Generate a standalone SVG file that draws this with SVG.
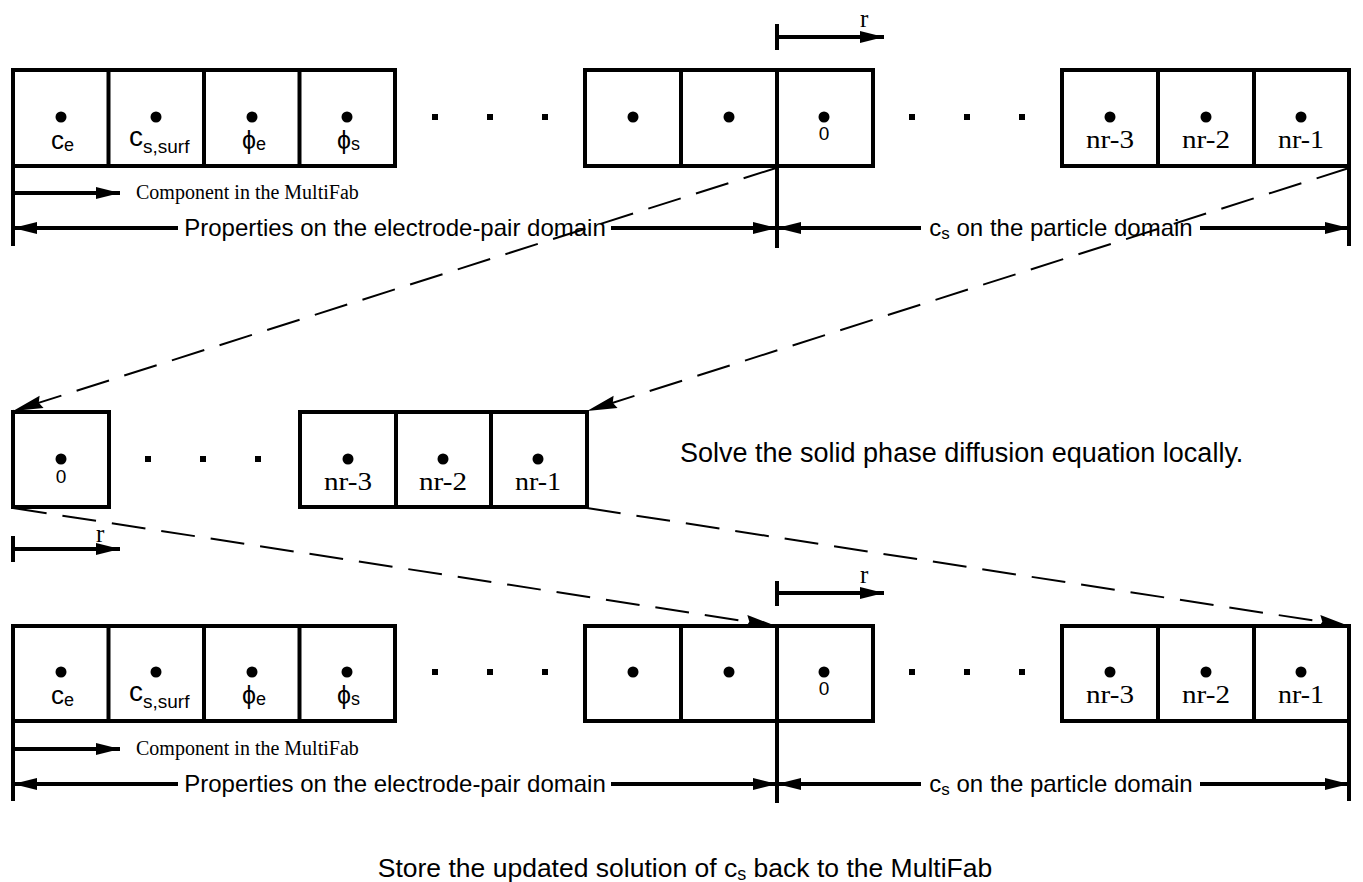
<svg xmlns="http://www.w3.org/2000/svg" width="1363" height="882" viewBox="0 0 1363 882">
<style>
.box{fill:none;stroke:#000;stroke-width:4;stroke-linejoin:miter}
.ln{stroke:#000;stroke-width:4;fill:none}
.sym{font-family:"Liberation Sans",Arial,sans-serif;fill:#000}
.ser{font-family:"Liberation Serif","Times New Roman",serif;fill:#000}
.nr{font-family:"Liberation Serif","Times New Roman",serif;fill:#000;font-size:25px;text-anchor:middle}
.dim{font-family:"Liberation Sans",Arial,sans-serif;fill:#000;font-size:24px;text-anchor:middle}
.comp{font-family:"Liberation Serif","Times New Roman",serif;fill:#000;font-size:20px}
.dash{stroke:#000;stroke-width:2;fill:none;stroke-dasharray:34 16}
.sq{fill:#000}
</style>
<defs>
<marker id="ah" markerUnits="userSpaceOnUse" markerWidth="26" markerHeight="14" refX="24" refY="6" orient="auto" overflow="visible">
<path d="M0,0 L24,6 L0,12 Z" fill="#000"/>
</marker>
<marker id="ahd" markerUnits="userSpaceOnUse" markerWidth="32" markerHeight="14" refX="30" refY="6.5" orient="auto" overflow="visible">
<path d="M0,0 L30,6.5 L0,13 L3,6.5 Z" fill="#000"/>
</marker>
<circle id="dot" r="5.5" fill="#000"/>
</defs>

<!-- TOP ROW -->
<g id="top-left-cells">
<rect class="box" x="13" y="70" width="382" height="96"/>
<line class="ln" x1="108.5" y1="70" x2="108.5" y2="166"/>
<line class="ln" x1="204" y1="70" x2="204" y2="166"/>
<line class="ln" x1="299.5" y1="70" x2="299.5" y2="166"/>
<use href="#dot" x="61" y="117"/><use href="#dot" x="156" y="117"/><use href="#dot" x="252" y="117"/><use href="#dot" x="347" y="117"/>
<text class="sym" x="51" y="149" font-size="26">c<tspan font-size="18" dy="2">e</tspan></text>
<text class="sym" x="129" y="146" font-size="28">c<tspan font-size="19" dy="7">s,surf</tspan></text>
<text class="sym" x="242" y="149" font-size="25">ϕ<tspan font-size="18" dy="1">e</tspan></text>
<text class="sym" x="337" y="149" font-size="25">ϕ<tspan font-size="18" dy="1">s</tspan></text>
</g>
<g id="top-dots1"><rect class="sq" x="432" y="114" width="6" height="6"/><rect class="sq" x="487" y="114" width="6" height="6"/><rect class="sq" x="542" y="114" width="6" height="6"/></g>
<g id="top-mid-cells">
<rect class="box" x="585" y="70" width="288" height="96"/>
<line class="ln" x1="681" y1="70" x2="681" y2="166"/>
<line class="ln" x1="777" y1="70" x2="777" y2="166"/>
<use href="#dot" x="633" y="117"/><use href="#dot" x="729" y="117"/><use href="#dot" x="824" y="117"/>
<text class="sym" x="824" y="140" font-size="19" text-anchor="middle">0</text>
</g>
<g id="top-dots2"><rect class="sq" x="909" y="114" width="6" height="6"/><rect class="sq" x="964" y="114" width="6" height="6"/><rect class="sq" x="1019" y="114" width="6" height="6"/></g>
<g id="top-right-cells">
<rect class="box" x="1062" y="70" width="287" height="96"/>
<line class="ln" x1="1158" y1="70" x2="1158" y2="166"/>
<line class="ln" x1="1254" y1="70" x2="1254" y2="166"/>
<use href="#dot" x="1110" y="117"/><use href="#dot" x="1206" y="117"/><use href="#dot" x="1301" y="117"/>
<text class="nr" x="1110" y="148" textLength="48" lengthAdjust="spacingAndGlyphs">nr-3</text>
<text class="nr" x="1206" y="148" textLength="48" lengthAdjust="spacingAndGlyphs">nr-2</text>
<text class="nr" x="1301" y="148" textLength="46" lengthAdjust="spacingAndGlyphs">nr-1</text>
</g>
<g id="top-r-arrow">
<line class="ln" x1="777" y1="24" x2="777" y2="50"/>
<line class="ln" x1="777" y1="37" x2="884" y2="37" marker-end="url(#ah)"/>
<text class="ser" x="860" y="27" font-size="25">r</text>
</g>
<g id="top-annotations">
<line class="ln" x1="13" y1="166" x2="13" y2="246"/>
<line class="ln" x1="777" y1="166" x2="777" y2="248"/>
<line class="ln" x1="1349" y1="166" x2="1349" y2="246"/>
<line class="ln" x1="13" y1="193" x2="120" y2="193" marker-end="url(#ah)"/>
<text class="comp" x="136" y="199">Component in the MultiFab</text>
<line class="ln" x1="178" y1="228" x2="13" y2="228" marker-end="url(#ah)"/>
<text class="dim" x="395" y="236">Properties on the electrode-pair domain</text>
<line class="ln" x1="611" y1="228" x2="777" y2="228" marker-end="url(#ah)"/>
<line class="ln" x1="921" y1="228" x2="777" y2="228" marker-end="url(#ah)"/>
<text class="dim" x="1061" y="236">c<tspan font-size="17" dy="3">s</tspan><tspan dy="-3"> on the particle domain</tspan></text>
<line class="ln" x1="1200" y1="228" x2="1349" y2="228" marker-end="url(#ah)"/>
</g>

<!-- MIDDLE ROW -->
<g id="mid-left-cell">
<rect class="box" x="13" y="412" width="96" height="95"/>
<use href="#dot" x="61" y="459"/>
<text class="sym" x="61" y="483" font-size="19" text-anchor="middle">0</text>
</g>
<g id="mid-dots"><rect class="sq" x="145" y="456" width="6" height="6"/><rect class="sq" x="200" y="456" width="6" height="6"/><rect class="sq" x="255" y="456" width="6" height="6"/></g>
<g id="mid-right-cells">
<rect class="box" x="300" y="412" width="287" height="95"/>
<line class="ln" x1="396" y1="412" x2="396" y2="507"/>
<line class="ln" x1="491" y1="412" x2="491" y2="507"/>
<use href="#dot" x="348" y="459"/><use href="#dot" x="443" y="459"/><use href="#dot" x="538" y="459"/>
<text class="nr" x="348" y="490" textLength="48" lengthAdjust="spacingAndGlyphs">nr-3</text>
<text class="nr" x="443" y="490" textLength="48" lengthAdjust="spacingAndGlyphs">nr-2</text>
<text class="nr" x="538" y="490" textLength="46" lengthAdjust="spacingAndGlyphs">nr-1</text>
</g>
<g id="mid-text">
<text class="sym" x="680" y="462" font-size="27">Solve the solid phase diffusion equation locally.</text>
</g>
<g id="mid-r-arrow">
<line class="ln" x1="13" y1="536" x2="13" y2="562"/>
<line class="ln" x1="13" y1="549" x2="120" y2="549" marker-end="url(#ah)"/>
<text class="ser" x="96" y="542" font-size="25">r</text>
</g>

<!-- BOTTOM ROW -->
<g id="bot-left-cells">
<rect class="box" x="13" y="626" width="382" height="95"/>
<line class="ln" x1="108.5" y1="626" x2="108.5" y2="721"/>
<line class="ln" x1="204" y1="626" x2="204" y2="721"/>
<line class="ln" x1="299.5" y1="626" x2="299.5" y2="721"/>
<use href="#dot" x="61" y="672"/><use href="#dot" x="156" y="672"/><use href="#dot" x="252" y="672"/><use href="#dot" x="347" y="672"/>
<text class="sym" x="51" y="704" font-size="26">c<tspan font-size="18" dy="2">e</tspan></text>
<text class="sym" x="129" y="701" font-size="28">c<tspan font-size="19" dy="7">s,surf</tspan></text>
<text class="sym" x="242" y="704" font-size="25">ϕ<tspan font-size="18" dy="1">e</tspan></text>
<text class="sym" x="337" y="704" font-size="25">ϕ<tspan font-size="18" dy="1">s</tspan></text>
</g>
<g id="bot-dots1"><rect class="sq" x="432" y="669" width="6" height="6"/><rect class="sq" x="487" y="669" width="6" height="6"/><rect class="sq" x="542" y="669" width="6" height="6"/></g>
<g id="bot-mid-cells">
<rect class="box" x="585" y="626" width="288" height="95"/>
<line class="ln" x1="681" y1="626" x2="681" y2="721"/>
<line class="ln" x1="777" y1="626" x2="777" y2="721"/>
<use href="#dot" x="633" y="672"/><use href="#dot" x="729" y="672"/><use href="#dot" x="824" y="672"/>
<text class="sym" x="824" y="695" font-size="19" text-anchor="middle">0</text>
</g>
<g id="bot-dots2"><rect class="sq" x="909" y="669" width="6" height="6"/><rect class="sq" x="964" y="669" width="6" height="6"/><rect class="sq" x="1019" y="669" width="6" height="6"/></g>
<g id="bot-right-cells">
<rect class="box" x="1062" y="626" width="287" height="95"/>
<line class="ln" x1="1158" y1="626" x2="1158" y2="721"/>
<line class="ln" x1="1254" y1="626" x2="1254" y2="721"/>
<use href="#dot" x="1110" y="672"/><use href="#dot" x="1206" y="672"/><use href="#dot" x="1301" y="672"/>
<text class="nr" x="1110" y="703" textLength="48" lengthAdjust="spacingAndGlyphs">nr-3</text>
<text class="nr" x="1206" y="703" textLength="48" lengthAdjust="spacingAndGlyphs">nr-2</text>
<text class="nr" x="1301" y="703" textLength="46" lengthAdjust="spacingAndGlyphs">nr-1</text>
</g>
<g id="bot-r-arrow">
<line class="ln" x1="777" y1="581" x2="777" y2="606"/>
<line class="ln" x1="777" y1="593" x2="884" y2="593" marker-end="url(#ah)"/>
<text class="ser" x="860" y="583" font-size="25">r</text>
</g>
<g id="bot-annotations">
<line class="ln" x1="13" y1="721" x2="13" y2="801"/>
<line class="ln" x1="777" y1="721" x2="777" y2="803"/>
<line class="ln" x1="1349" y1="721" x2="1349" y2="801"/>
<line class="ln" x1="13" y1="749" x2="120" y2="749" marker-end="url(#ah)"/>
<text class="comp" x="136" y="755">Component in the MultiFab</text>
<line class="ln" x1="178" y1="784" x2="13" y2="784" marker-end="url(#ah)"/>
<text class="dim" x="395" y="792">Properties on the electrode-pair domain</text>
<line class="ln" x1="611" y1="784" x2="777" y2="784" marker-end="url(#ah)"/>
<line class="ln" x1="921" y1="784" x2="777" y2="784" marker-end="url(#ah)"/>
<text class="dim" x="1061" y="792">c<tspan font-size="17" dy="3">s</tspan><tspan dy="-3"> on the particle domain</tspan></text>
<line class="ln" x1="1200" y1="784" x2="1349" y2="784" marker-end="url(#ah)"/>
</g>
<g id="caption">
<text class="sym" x="685" y="877" font-size="26.5" text-anchor="middle">Store the updated solution of c<tspan font-size="18" dy="3">s</tspan><tspan dy="-3"> back to the MultiFab</tspan></text>
</g>

<!-- CONNECTORS -->
<g id="connectors">
<line class="dash" x1="776" y1="168" x2="13" y2="411" marker-end="url(#ahd)"/>
<line class="dash" x1="1349" y1="168" x2="587" y2="411" marker-end="url(#ahd)"/>
<line class="dash" x1="13" y1="508" x2="776" y2="626" marker-end="url(#ahd)"/>
<line class="dash" x1="587" y1="508" x2="1349" y2="626" marker-end="url(#ahd)"/>
</g>
</svg>
